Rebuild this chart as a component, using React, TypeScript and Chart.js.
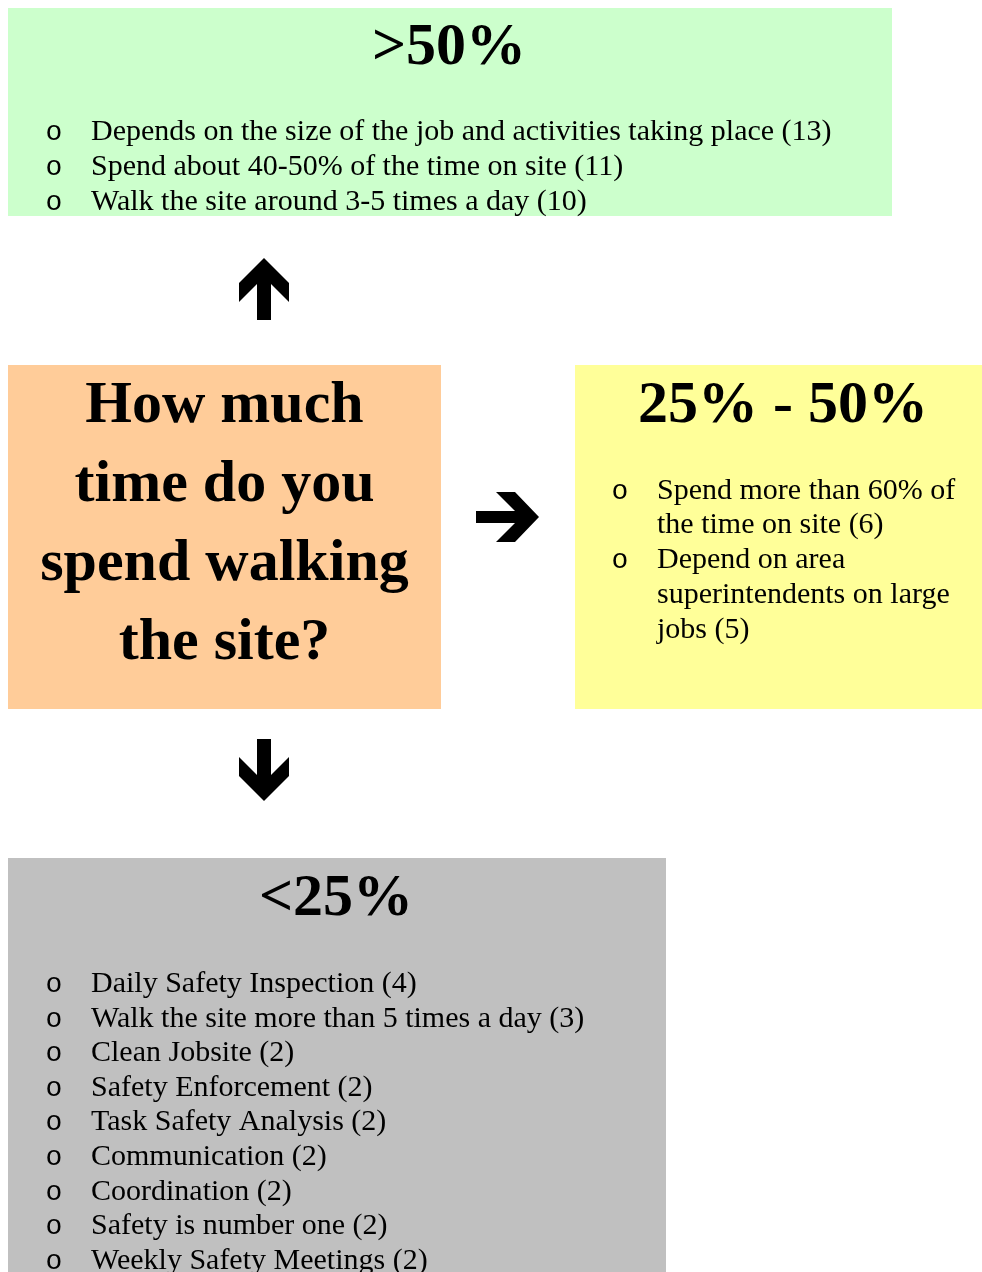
import React, { useEffect, useRef } from "react";
import { Chart, registerables } from "chart.js";

Chart.register(...registerables);

// ---- data ----
const questionLines = ["How much", "time do you", "spend walking", "the site?"];

const highTitle = ">50%";
const highItems = [
  "Depends on the size of the job and activities taking place",
  "Spend about 40-50% of the time on site",
  "Walk the site around 3-5 times a day",
];
const highCounts = [13, 11, 10];

const midTitle = "25% - 50%";
// each item wrapped as in the reference
const midItems = [
  ["Spend more than 60% of", "the time on site"],
  ["Depend on area", "superintendents on large", "jobs"],
];
const midCounts = [6, 5];

const lowTitle = "<25%";
const lowItems = [
  "Daily Safety Inspection",
  "Walk the site more than 5 times a day",
  "Clean Jobsite",
  "Safety Enforcement",
  "Task Safety Analysis",
  "Communication",
  "Coordination",
  "Safety is number one",
  "Weekly Safety Meetings",
];
const lowCounts = [4, 3, 2, 2, 2, 2, 2, 2, 2];

// ---- layout (canvas coordinates) ----
const W = 982;
const H = 1272;
const SERIF = "'Liberation Serif', 'Times New Roman', serif";
const TITLE_FONT = `bold 60px ${SERIF}`;
const ITEM_FONT = `30px ${SERIF}`;
const BULLET_FONT = `28px 'Liberation Mono', 'Courier New', monospace`;

const boxes = {
  high: { x0: 8, y0: 8, x1: 892, y1: 216, color: "#CCFFCC" },
  question: { x0: 8, y0: 365, x1: 441, y1: 709, color: "#FFCC99" },
  mid: { x0: 575, y0: 365, x1: 982, y1: 709, color: "#FFFF99" },
  low: { x0: 8, y0: 858, x1: 666, y1: 1290, color: "#C0C0C0" },
};

const diagramPlugin = {
  id: "diagram",
  beforeDatasetsDraw(chart: any) {
    const ctx: CanvasRenderingContext2D = chart.ctx;
    const xs = chart.scales.x;
    const ys = chart.scales.y;
    const px = (v: number) => xs.getPixelForValue(v);
    const py = (v: number) => ys.getPixelForValue(v);

    ctx.save();
    ctx.fillStyle = "#FFFFFF";
    ctx.fillRect(0, 0, chart.width, chart.height);

    Object.values(boxes).forEach((b) => {
      ctx.fillStyle = b.color;
      ctx.fillRect(px(b.x0), py(b.y0), px(b.x1) - px(b.x0), py(b.y1) - py(b.y0));
    });

    ctx.fillStyle = "#000000";
    ctx.textBaseline = "alphabetic";

    const title = (t: string, cx: number, by: number) => {
      ctx.font = TITLE_FONT;
      ctx.textAlign = "center";
      ctx.fillText(t, px(cx), py(by));
    };
    const bulletLine = (t: string, bx: number, tx: number, by: number, bullet: boolean) => {
      if (bullet) {
        ctx.font = BULLET_FONT;
        ctx.textAlign = "center";
        ctx.fillText("o", px(bx), py(by));
      }
      ctx.font = ITEM_FONT;
      ctx.textAlign = "left";
      ctx.fillText(t, px(tx), py(by));
    };

    title(highTitle, 449, 64);
    highItems.forEach((it, i) => {
      bulletLine(`${it} (${highCounts[i]})`, 54, 91, 140 + i * 35, true);
    });

    questionLines.forEach((l, i) => title(l, 224.5, 422 + i * 79));

    title(midTitle, 783, 422);
    let row = 0;
    midItems.forEach((lines, i) => {
      lines.forEach((l, j) => {
        const txt = j === lines.length - 1 ? `${l} (${midCounts[i]})` : l;
        bulletLine(txt, 620, 657, 498.5 + row * 34.8, j === 0);
        row++;
      });
    });

    title(lowTitle, 336, 915);
    lowItems.forEach((it, i) => {
      bulletLine(`${it} (${lowCounts[i]})`, 54, 91, 992 + i * 34.6, true);
    });

    const poly = (pts: number[][]) => {
      ctx.beginPath();
      pts.forEach(([x, y], k) => (k === 0 ? ctx.moveTo(px(x), py(y)) : ctx.lineTo(px(x), py(y))));
      ctx.closePath();
      ctx.fill();
    };
    const upArrow = [
      [264, 258], [289, 283], [289, 302], [271, 284], [271, 320],
      [257, 320], [257, 284], [239, 302], [239, 283],
    ];
    poly(upArrow);
    poly(upArrow.map(([x, y]) => [x, 1059 - y]));
    poly([
      [476, 511], [515, 511], [496, 492], [515, 492], [539, 517],
      [515, 542], [496, 542], [515, 523], [476, 523],
    ]);

    ctx.restore();
  },
};

export default function App() {
  const ref = useRef<HTMLCanvasElement | null>(null);
  useEffect(() => {
    document.body.style.margin = "0";
    document.body.style.overflow = "hidden";
    if (!ref.current) return;
    const chart = new Chart(ref.current, {
      type: "scatter",
      data: { datasets: [{ data: [], pointRadius: 0 }] },
      options: {
        animation: false,
        responsive: false,
        devicePixelRatio: 1,
        layout: { padding: 0 },
        plugins: { legend: { display: false }, tooltip: { enabled: false } },
        scales: {
          x: { type: "linear", min: 0, max: W, display: false },
          y: { type: "linear", min: 0, max: H, reverse: true, display: false },
        },
      },
      plugins: [diagramPlugin],
    });
    return () => chart.destroy();
  }, []);
  return (
    <div style={{ position: "absolute", left: 0, top: 0, width: W, height: H }}>
      <canvas ref={ref} width={W} height={H} style={{ display: "block", width: W, height: H }} />
    </div>
  );
}
